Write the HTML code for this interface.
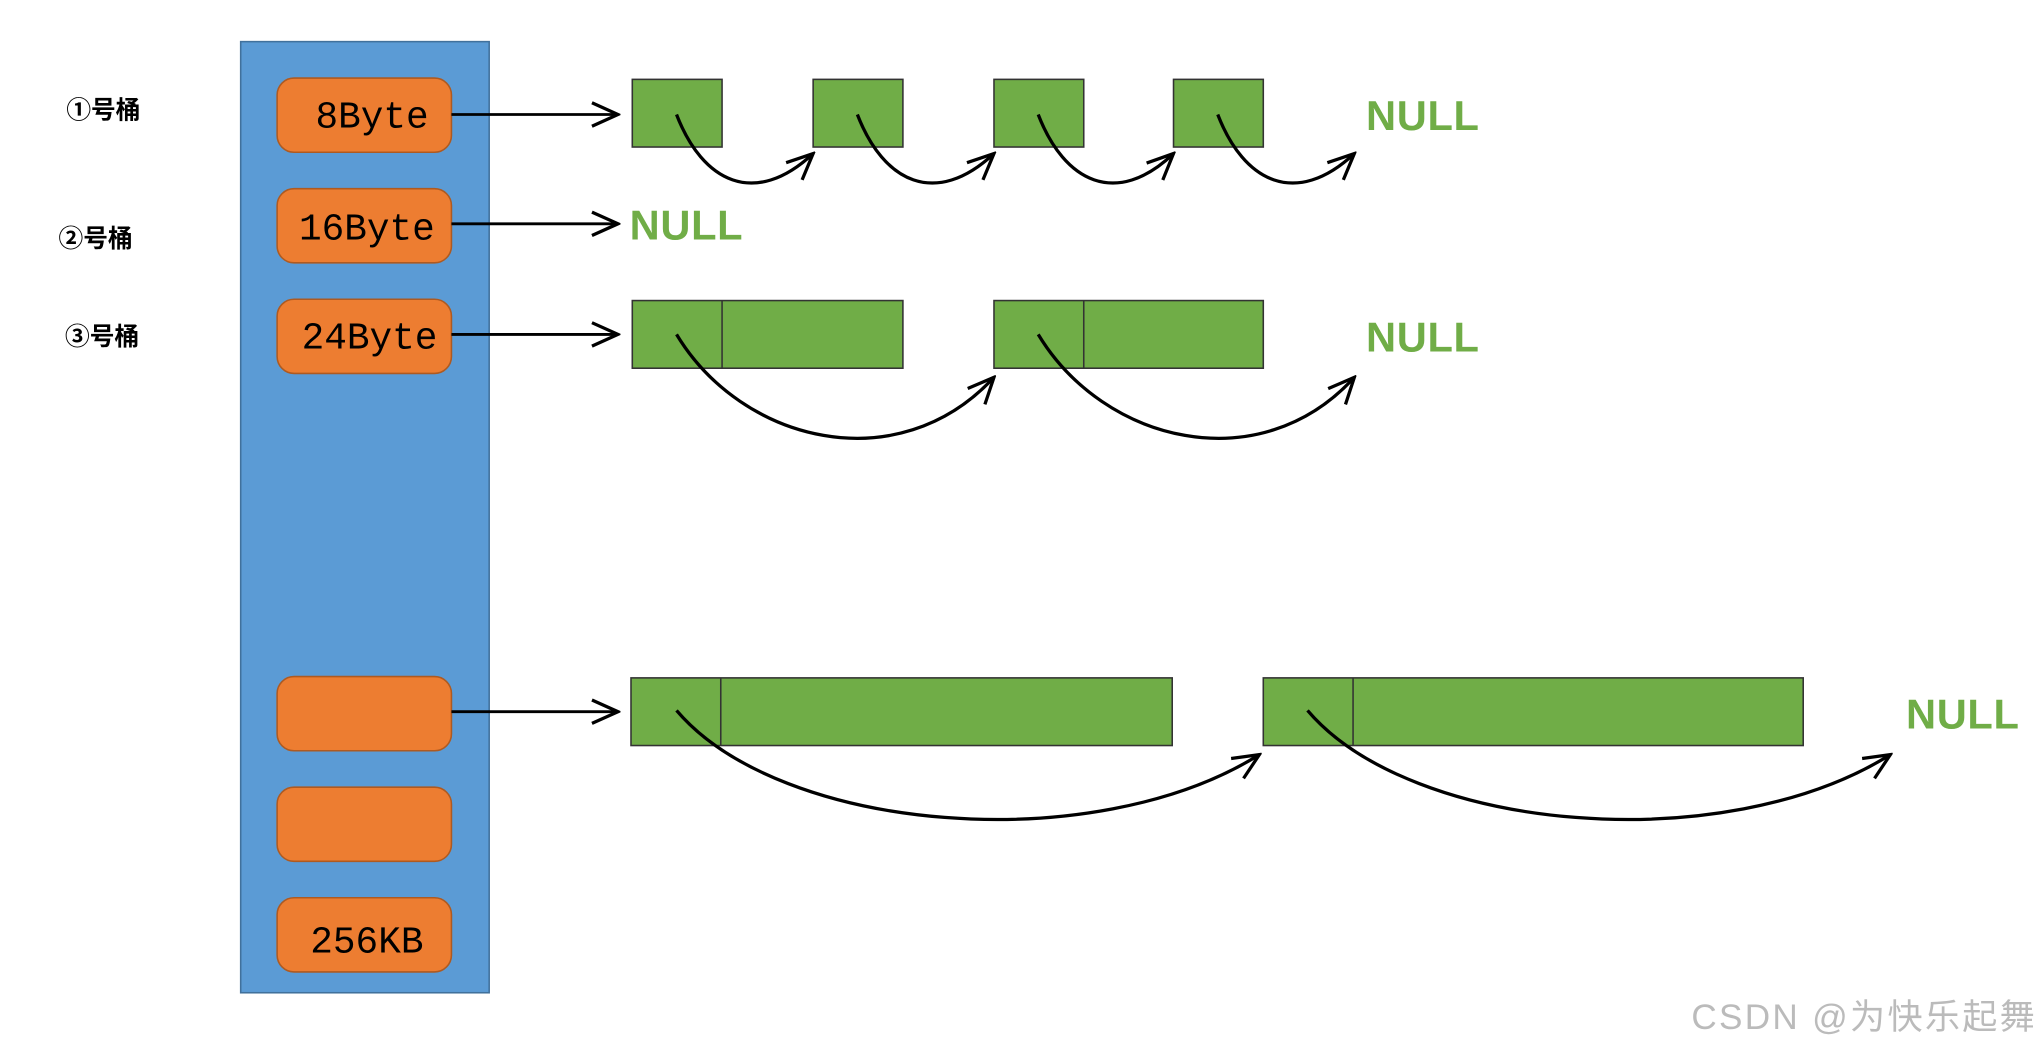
<!DOCTYPE html>
<html><head><meta charset="utf-8"><style>html,body{margin:0;padding:0;background:#fff}svg{display:block}</style></head>
<body>
<svg width="2040" height="1050" viewBox="0 0 1568 807" preserveAspectRatio="none" xmlns="http://www.w3.org/2000/svg">
<defs>
<marker id="b" viewBox="0 0 24 24" refX="22" refY="12" markerWidth="24" markerHeight="24" markerUnits="userSpaceOnUse" orient="auto">
<path d="M2,3 L22,12 L2,21" fill="none" stroke="#000" stroke-width="2.5"/>
</marker>
</defs>
<rect width="1568" height="807" fill="#fff"/>
<rect x="185" y="32" width="191" height="731" fill="#5B9BD5" stroke="#41719C" stroke-width="1.2"/>
<g fill="#ED7D31" stroke="#AE5A21" stroke-width="1.2">
<rect x="213" y="60" width="134" height="57" rx="13"/>
<rect x="213" y="145" width="134" height="57" rx="13"/>
<rect x="213" y="230" width="134" height="57" rx="13"/>
<rect x="213" y="520" width="134" height="57" rx="13"/>
<rect x="213" y="605" width="134" height="57" rx="13"/>
<rect x="213" y="690" width="134" height="57" rx="13"/>
</g>
<g font-family="Liberation Mono, monospace" font-size="29" fill="#000" text-anchor="middle">
<text x="286" y="98">8Byte</text>
<text x="282" y="184">16Byte</text>
<text x="284" y="268">24Byte</text>
<text x="282" y="732">256KB</text>
</g>
<g font-family="Liberation Sans, 'Noto Sans CJK SC', sans-serif" font-size="19" font-weight="bold" fill="#000">
<text x="51" y="91">①号桶</text>
<text x="45" y="190">②号桶</text>
<text x="50" y="265">③号桶</text>
</g>
<g stroke="#000" stroke-width="2.2" fill="none" marker-end="url(#b)">
<line x1="347" y1="88" x2="475" y2="88"/>
<line x1="347" y1="172" x2="475" y2="172"/>
<line x1="347" y1="257" x2="475" y2="257"/>
<line x1="347" y1="547" x2="475" y2="547"/>
</g>
<g fill="#70AD47" stroke="#333" stroke-width="1.2">
<rect x="486" y="61" width="69" height="52"/>
<rect x="625" y="61" width="69" height="52"/>
<rect x="764" y="61" width="69" height="52"/>
<rect x="902" y="61" width="69" height="52"/>
<rect x="486" y="231" width="208" height="52"/>
<rect x="764" y="231" width="207" height="52"/>
<rect x="485" y="521" width="416" height="52"/>
<rect x="971" y="521" width="415" height="52"/>
</g>
<g stroke="#333" stroke-width="1.2">
<line x1="555" y1="231" x2="555" y2="283"/>
<line x1="833" y1="231" x2="833" y2="283"/>
<line x1="554" y1="521" x2="554" y2="573"/>
<line x1="1040" y1="521" x2="1040" y2="573"/>
</g>
<g stroke="#000" stroke-width="2.5" fill="none" marker-end="url(#b)">
<path d="M520,88 C540,140 580,160 625,118"/>
<path d="M659,88 C679,140 719,160 764,118"/>
<path d="M798,88 C818,140 858,160 902,118"/>
<path d="M936,88 C956,140 996,160 1041,118"/>
<path d="M520,257 C570,340 690,370 764,290"/>
<path d="M798,257 C848,340 968,370 1041,290"/>
<path d="M520,546 C600,640 840,660 968,580"/>
<path d="M1005,546 C1085,640 1325,660 1453,580"/>
</g>
<g font-family="Liberation Sans, sans-serif" font-size="32" font-weight="bold" fill="#70AD47" letter-spacing="0.5">
<text x="1050" y="100">NULL</text>
<text x="484" y="184">NULL</text>
<text x="1050" y="270">NULL</text>
<text x="1465" y="560">NULL</text>
</g>
<text x="1300" y="791" font-family="Liberation Sans, 'Noto Sans CJK SC', sans-serif" font-size="27" fill="#bbb" textLength="264">CSDN @为快乐起舞</text>
</svg>
</body></html>
